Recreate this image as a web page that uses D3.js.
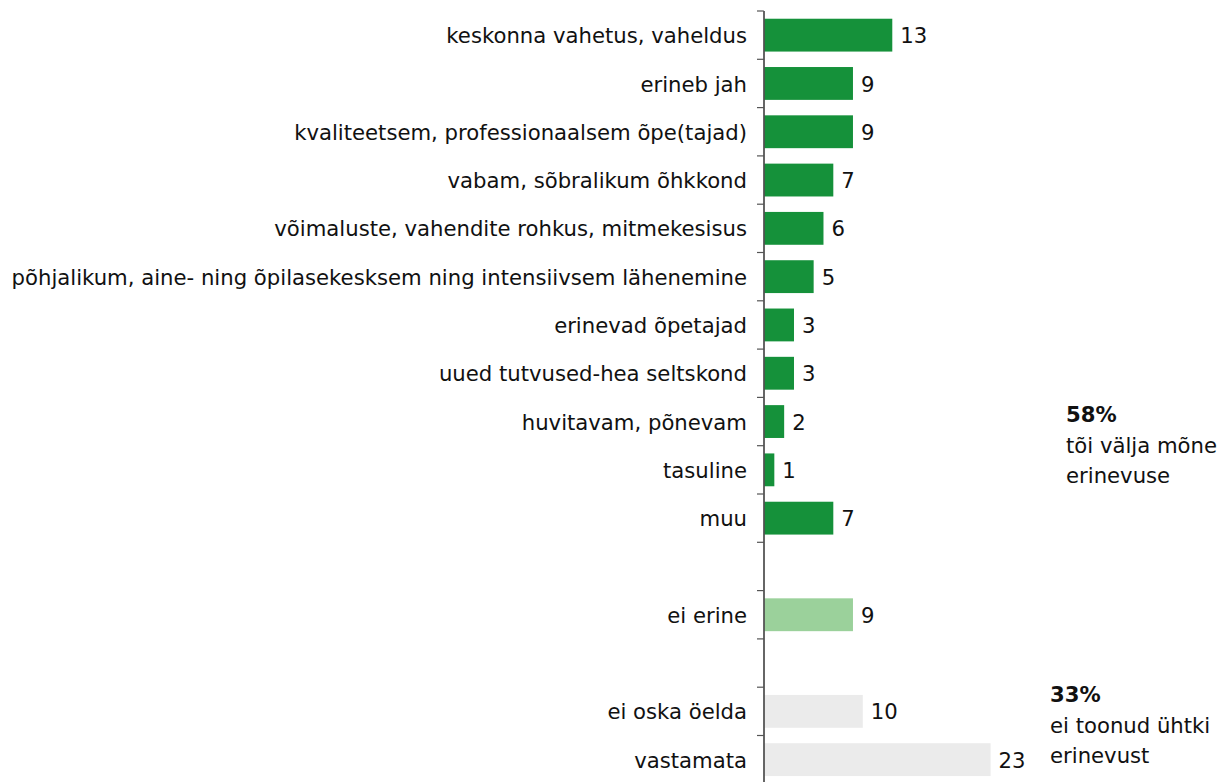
<!DOCTYPE html>
<html>
<head>
<meta charset="utf-8">
<script src="https://cdn.jsdelivr.net/npm/d3@7"></script>
<style>
  html, body { margin: 0; padding: 0; background: #fff; }
  svg { display: block; }
</style>
</head>
<body>
<script>
// categories, top to bottom ("" rows are empty spacer rows)
const categories = [
  "keskonna vahetus, vaheldus",
  "erineb jah",
  "kvaliteetsem, professionaalsem õpe(tajad)",
  "vabam, sõbralikum õhkkond",
  "võimaluste, vahendite rohkus, mitmekesisus",
  "põhjalikum, aine- ning õpilasekesksem ning intensiivsem lähenemine",
  "erinevad õpetajad",
  "uued tutvused-hea seltskond",
  "huvitavam, põnevam",
  "tasuline",
  "muu",
  "",
  "ei erine",
  "",
  "ei oska öelda",
  "vastamata"
]
const values = [13, 9, 9, 7, 6, 5, 3, 3, 2, 1, 7, null, 9, null, 10, 23]
const groups = ["yes", "yes", "yes", "yes", "yes", "yes", "yes", "yes", "yes", "yes", "yes", null, "no", null, "none", "none"]

const notes = [
  { pct: "58%", lines: ["tõi välja mõne", "erinevuse"] },
  { pct: "33%", lines: ["ei toonud ühtki", "erinevust"] }
]

const width = 1228
const height = 782
const font = "DejaVu Sans, Verdana, sans-serif"
const fontSize = "21.2px"

const colors = { yes: "#15913a", no: "#9bd19b", none: "#ebebeb" }

const rows = categories.map((c, i) => ({ key: "r" + i, label: c, value: values[i], group: groups[i] }))

const svg = d3.select("body").append("svg")
  .attr("width", width)
  .attr("height", height)

const axisX = 764

const y = d3.scaleBand()
  .domain(rows.map(d => d.key))
  .range([11, 11 + 16 * 48.3])
  .paddingInner(0.32)
  .paddingOuter(0.16)

const x = d3.scaleLinear()
  .domain([0, 23])
  .range([axisX + 0.5, axisX + 0.5 + 23 * 9.83])

const data = rows.filter(d => d.value != null)

// bars
svg.append("g")
  .selectAll("rect")
  .data(data)
  .join("rect")
    .attr("x", x(0))
    .attr("y", d => y(d.key))
    .attr("width", d => x(d.value) - x(0))
    .attr("height", y.bandwidth())
    .attr("fill", d => colors[d.group])

// value labels
svg.append("g")
  .selectAll("text")
  .data(data)
  .join("text")
    .attr("x", d => x(d.value) + 8)
    .attr("y", d => y(d.key) + y.bandwidth() / 2)
    .attr("dy", "0.38em")
    .attr("fill", "#111")
    .style("font", `${fontSize} ${font}`)
    .text(d => d.value)

// category labels
svg.append("g")
  .selectAll("text")
  .data(rows.filter(d => d.label))
  .join("text")
    .attr("x", axisX - 17)
    .attr("y", d => y(d.key) + y.bandwidth() / 2)
    .attr("dy", "0.38em")
    .attr("text-anchor", "end")
    .attr("fill", "#111")
    .style("font", `${fontSize} ${font}`)
    .text(d => d.label)

// axis line and ticks at band boundaries
const axis = svg.append("g")
axis.append("line")
  .attr("x1", axisX).attr("x2", axisX)
  .attr("y1", 11).attr("y2", height)
  .attr("stroke", "#333")
  .attr("stroke-width", 1.5)

axis.selectAll(".tick")
  .data(d3.range(rows.length + 1))
  .join("line")
    .attr("class", "tick")
    .attr("x1", axisX - 7).attr("x2", axisX)
    .attr("y1", i => 11 + i * y.step())
    .attr("y2", i => 11 + i * y.step())
    .attr("stroke", "#555")
    .attr("stroke-width", 1.2)

// summary notes on the right
const notePos = [{ x: 1066, y: 422 }, { x: 1050, y: 702 }]
notes.forEach((n, i) => {
  const t = svg.append("text")
    .attr("x", notePos[i].x)
    .attr("y", notePos[i].y)
    .attr("fill", "#111")
    .style("font", `${fontSize} ${font}`)
  t.append("tspan")
    .style("font-weight", "bold")
    .text(n.pct)
  n.lines.forEach(l => {
    t.append("tspan")
      .attr("x", notePos[i].x)
      .attr("dy", 30.5)
      .text(l)
  })
})
</script>
</body>
</html>
